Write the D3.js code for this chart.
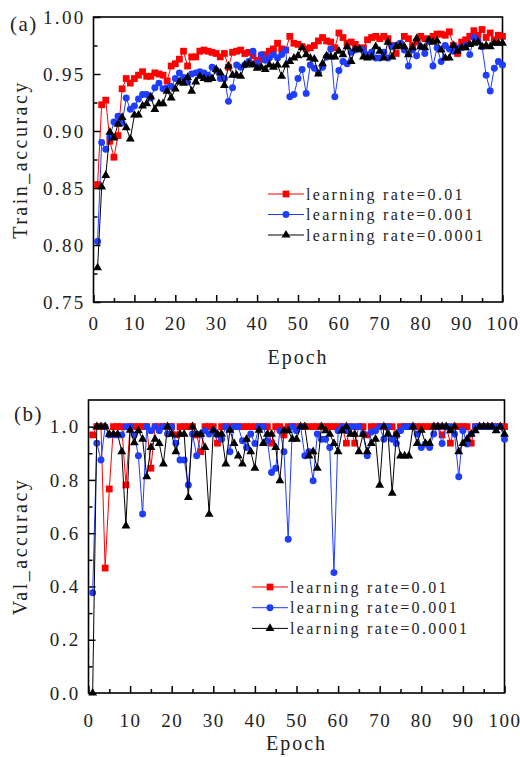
<!DOCTYPE html>
<html>
<head>
<meta charset="utf-8">
<script src="https://cdn.jsdelivr.net/npm/d3@7"></script>
<style>
  body { margin: 0; background: #fff; }
  svg text { font-family: "Liberation Serif", "Times New Roman", serif; fill: #222; }
</style>
</head>
<body>
<div id="chart"></div>
<script>
// epochs 1..100
var epochs = d3.range(1, 101);

var seriesNames = ["learning rate=0.01", "learning rate=0.001", "learning rate=0.0001"];

// (a) training accuracy
var trainLr01 = [0.853,0.923,0.927,0.891,0.877,0.896,0.937,0.946,0.942,0.946,
  0.949,0.952,0.948,0.948,0.951,0.950,0.949,0.944,0.957,0.959,
  0.963,0.970,0.957,0.965,0.965,0.970,0.971,0.970,0.969,0.968,
  0.965,0.968,0.956,0.969,0.970,0.971,0.968,0.969,0.966,0.962,
  0.963,0.967,0.970,0.972,0.977,0.972,0.971,0.983,0.977,0.976,
  0.974,0.972,0.973,0.975,0.979,0.982,0.979,0.978,0.973,0.986,
  0.982,0.977,0.978,0.976,0.972,0.973,0.980,0.982,0.983,0.981,
  0.983,0.981,0.975,0.968,0.976,0.983,0.981,0.975,0.978,0.983,
  0.981,0.979,0.983,0.985,0.985,0.984,0.987,0.975,0.968,0.978,
  0.980,0.983,0.988,0.984,0.989,0.982,0.986,0.980,0.984,0.983];

var trainLr001 = [0.803,0.890,0.884,0.895,0.908,0.913,0.907,0.929,0.919,0.922,
  0.928,0.932,0.932,0.929,0.938,0.942,0.937,0.938,0.939,0.946,
  0.951,0.947,0.943,0.950,0.951,0.952,0.951,0.949,0.956,0.953,
  0.946,0.946,0.926,0.938,0.958,0.956,0.958,0.961,0.970,0.959,
  0.967,0.962,0.964,0.967,0.964,0.967,0.971,0.930,0.932,0.946,
  0.954,0.933,0.958,0.955,0.951,0.956,0.965,0.972,0.930,0.953,
  0.961,0.959,0.969,0.971,0.972,0.971,0.967,0.969,0.964,0.964,
  0.969,0.964,0.974,0.975,0.977,0.971,0.957,0.971,0.966,0.974,
  0.968,0.979,0.957,0.973,0.961,0.975,0.972,0.970,0.973,0.973,
  0.975,0.967,0.982,0.979,0.974,0.949,0.935,0.955,0.961,0.958];

var trainLr0001 = [0.780,0.851,0.861,0.899,0.894,0.906,0.912,0.903,0.893,0.914,
  0.914,0.922,0.924,0.930,0.919,0.924,0.924,0.935,0.929,0.937,
  0.943,0.942,0.947,0.935,0.943,0.948,0.946,0.945,0.946,0.954,
  0.951,0.940,0.957,0.949,0.949,0.948,0.958,0.959,0.958,0.955,
  0.956,0.954,0.958,0.956,0.958,0.948,0.958,0.961,0.964,0.966,
  0.973,0.967,0.964,0.963,0.950,0.959,0.966,0.965,0.965,0.970,
  0.967,0.974,0.961,0.972,0.972,0.965,0.964,0.965,0.974,0.970,
  0.964,0.978,0.965,0.974,0.975,0.974,0.967,0.973,0.981,0.974,
  0.973,0.980,0.978,0.979,0.971,0.964,0.964,0.975,0.970,0.973,
  0.973,0.976,0.977,0.978,0.974,0.975,0.974,0.977,0.977,0.977];

// (b) validation accuracy
var valLr01 = [0.969,1,1,0.469,0.766,1,1,1,0.781,1,
  1,1,1,1,0.844,1,1,1,1,1,
  0.969,1,1,1,1,0.969,0.906,1,1,1,
  0.938,1,1,1,1,1,1,1,1,1,
  1,1,1,0.938,1,1,0.969,1,1,1,
  1,1,1,1,1,1,1,1,1,1,
  1,0.938,1,0.938,1,1,0.969,1,1,1,
  1,1,1,0.969,1,1,1,1,1,1,
  1,1,1,1,0.969,1,0.938,1,1,1,
  1,0.938,1,1,1,1,1,1,1,1];

var valLr001 = [0.376,0.938,0.875,1,0.969,0.969,0.969,0.969,1,1,
  0.969,0.891,0.672,1,0.985,1,0.985,1,0.972,1,
  0.938,0.875,0.875,0.781,0.972,0.891,0.972,0.985,0.972,0.985,
  0.969,0.953,1,0.906,1,1,0.947,0.922,0.972,0.937,
  1,1,0.947,0.828,0.844,0.985,0.906,0.577,1,0.985,
  1,0.891,0.906,0.797,0.972,0.953,0.953,0.922,0.452,0.985,
  1,0.985,1,1,1,0.972,0.891,0.980,0.985,1,
  0.953,1,0.953,0.937,0.985,1,1,1,0.972,0.922,
  0.935,0.922,0.972,1,0.937,1,1,0.972,0.812,0.985,
  0.935,0.972,1,1,1,1,1,1,1,0.953];

var valLr0001 = [0,1,1,1,0.972,0.972,0.972,0.906,0.627,0.987,
  0.940,0.985,0.953,0.812,0.922,0.953,0.937,0.860,1,0.972,
  0.906,0.972,0.972,0.734,1,0.972,0.972,0.922,0.671,0.987,
  0.972,0.972,0.860,0.987,0.937,0.890,0.860,0.953,0.906,0.844,
  0.987,0.937,0.972,0.972,0.922,0.797,0.985,0.985,0.953,0.953,
  1,1,0.890,0.906,0.844,1,0.985,0.972,0.937,0.906,
  0.985,1,0.972,0.972,0.906,0.972,0.906,0.937,0.953,0.780,
  1,0.972,0.750,0.972,0.890,0.890,0.890,1,0.937,0.987,
  0.937,0.937,1,1,1,1,0.985,1,0.906,0.937,
  0.953,0.972,0.985,1,1,1,1,0.985,1,0.972];

var colors = ["#ff0000", "#1f3dff", "#000000"];
var symbols = [d3.symbolSquare, d3.symbolCircle, d3.symbolTriangle];
var symbolSizes = [46, 38, 34];

var svg = d3.select("#chart").append("svg")
    .attr("width", 520)
    .attr("height", 757);

function drawPanel(cfg) {
    var x = d3.scaleLinear().domain([0, 100]).range([cfg.left, cfg.right]);
    var y = d3.scaleLinear().domain(cfg.yDomain).range([cfg.bottom, cfg.top]);

    var g = svg.append("g");

    // minor ticks
    g.append("g")
        .attr("transform", "translate(0," + cfg.bottom + ")")
        .call(d3.axisBottom(x).tickValues(d3.range(5, 100, 10)).tickSize(-4).tickFormat(""))
        .call(function (a) { a.select(".domain").remove(); });
    g.append("g")
        .attr("transform", "translate(" + cfg.left + ",0)")
        .call(d3.axisLeft(y).tickValues(cfg.yMinor).tickSize(-4).tickFormat(""))
        .call(function (a) { a.select(".domain").remove(); });

    // major ticks
    g.append("g")
        .attr("transform", "translate(0," + cfg.bottom + ")")
        .call(d3.axisBottom(x).tickValues(d3.range(0, 101, 10)).tickSize(-7).tickPadding(cfg.xPad).tickFormat(d3.format("d")))
        .call(function (a) {
            a.select(".domain").remove();
            a.selectAll("text").style("font-size", "19px").style("letter-spacing", "1.5px").attr("fill", "#222");
        });
    g.append("g")
        .attr("transform", "translate(" + cfg.left + ",0)")
        .call(d3.axisLeft(y).tickValues(cfg.yTicks).tickSize(-7).tickPadding(8).tickFormat(d3.format(cfg.yFormat)))
        .call(function (a) {
            a.select(".domain").remove();
            a.selectAll("text").style("font-size", "19px").style("letter-spacing", "2.3px").attr("fill", "#222");
        });
    g.selectAll(".tick line").attr("stroke", "#000").attr("stroke-width", 1.5);

    // frame
    g.append("rect")
        .attr("x", cfg.left).attr("y", cfg.top)
        .attr("width", cfg.right - cfg.left).attr("height", cfg.bottom - cfg.top)
        .attr("fill", "none").attr("stroke", "#000").attr("stroke-width", 1.6);

    // series
    var line = d3.line()
        .x(function (d, i) { return x(epochs[i]); })
        .y(function (d) { return y(d); });

    cfg.series.forEach(function (vals, s) {
        g.append("path")
            .datum(vals)
            .attr("fill", "none")
            .attr("stroke", colors[s])
            .attr("stroke-width", 1)
            .attr("d", line);
        g.selectAll(".pt" + s)
            .data(vals)
            .enter().append("path")
            .attr("transform", function (d, i) { return "translate(" + x(epochs[i]) + "," + y(d) + ")"; })
            .attr("d", d3.symbol().type(symbols[s]).size(symbolSizes[s]))
            .attr("fill", colors[s]);
    });

    // legend
    seriesNames.forEach(function (name, s) {
        var ly = cfg.legendY + s * cfg.legendStep;
        g.append("line")
            .attr("x1", cfg.legendX).attr("x2", cfg.legendX + 36)
            .attr("y1", ly).attr("y2", ly)
            .attr("stroke", colors[s]).attr("stroke-width", 1);
        g.append("path")
            .attr("transform", "translate(" + (cfg.legendX + 18) + "," + ly + ")")
            .attr("d", d3.symbol().type(symbols[s]).size(symbolSizes[s]))
            .attr("fill", colors[s]);
        g.append("text")
            .attr("x", cfg.legendX + 38).attr("y", ly)
            .attr("dy", "0.35em")
            .style("font-size", "16px")
            .style("letter-spacing", "2.3px")
            .text(name);
    });

    // titles
    g.append("text")
        .attr("x", (cfg.left + cfg.right) / 2)
        .attr("y", cfg.xTitleY)
        .attr("text-anchor", "middle")
        .style("font-size", "20px")
        .style("letter-spacing", "2px")
        .text("Epoch");
    g.append("text")
        .attr("transform", "translate(27," + ((cfg.top + cfg.bottom) / 2) + ") rotate(-90)")
        .attr("text-anchor", "middle")
        .style("font-size", "20px")
        .style("letter-spacing", "2.5px")
        .text(cfg.yTitle);
    g.append("text")
        .attr("x", cfg.tagX).attr("y", cfg.tagY)
        .style("font-size", "21px")
        .style("letter-spacing", "1.5px")
        .text(cfg.tag);
}

drawPanel({
    left: 93.5, right: 502.5, top: 17, bottom: 302,
    yDomain: [0.75, 1.0],
    yTicks: [0.75, 0.80, 0.85, 0.90, 0.95, 1.00],
    yMinor: [0.775, 0.825, 0.875, 0.925, 0.975],
    yFormat: ".2f",
    xPad: 15,
    series: [trainLr01, trainLr001, trainLr0001],
    legendX: 268, legendY: 194, legendStep: 20.5,
    xTitleY: 364,
    yTitle: "Train_accuracy",
    tag: "(a)", tagX: 10, tagY: 31
});

drawPanel({
    left: 88.5, right: 504.5, top: 400, bottom: 693,
    yDomain: [0, 1.1],
    yTicks: [0, 0.2, 0.4, 0.6, 0.8, 1.0],
    yMinor: [0.1, 0.3, 0.5, 0.7, 0.9],
    yFormat: ".1f",
    xPad: 21,
    series: [valLr01, valLr001, valLr0001],
    legendX: 252, legendY: 587, legendStep: 20.7,
    xTitleY: 750,
    yTitle: "Val_accuracy",
    tag: "(b)", tagX: 14, tagY: 421
});
</script>
</body>
</html>
